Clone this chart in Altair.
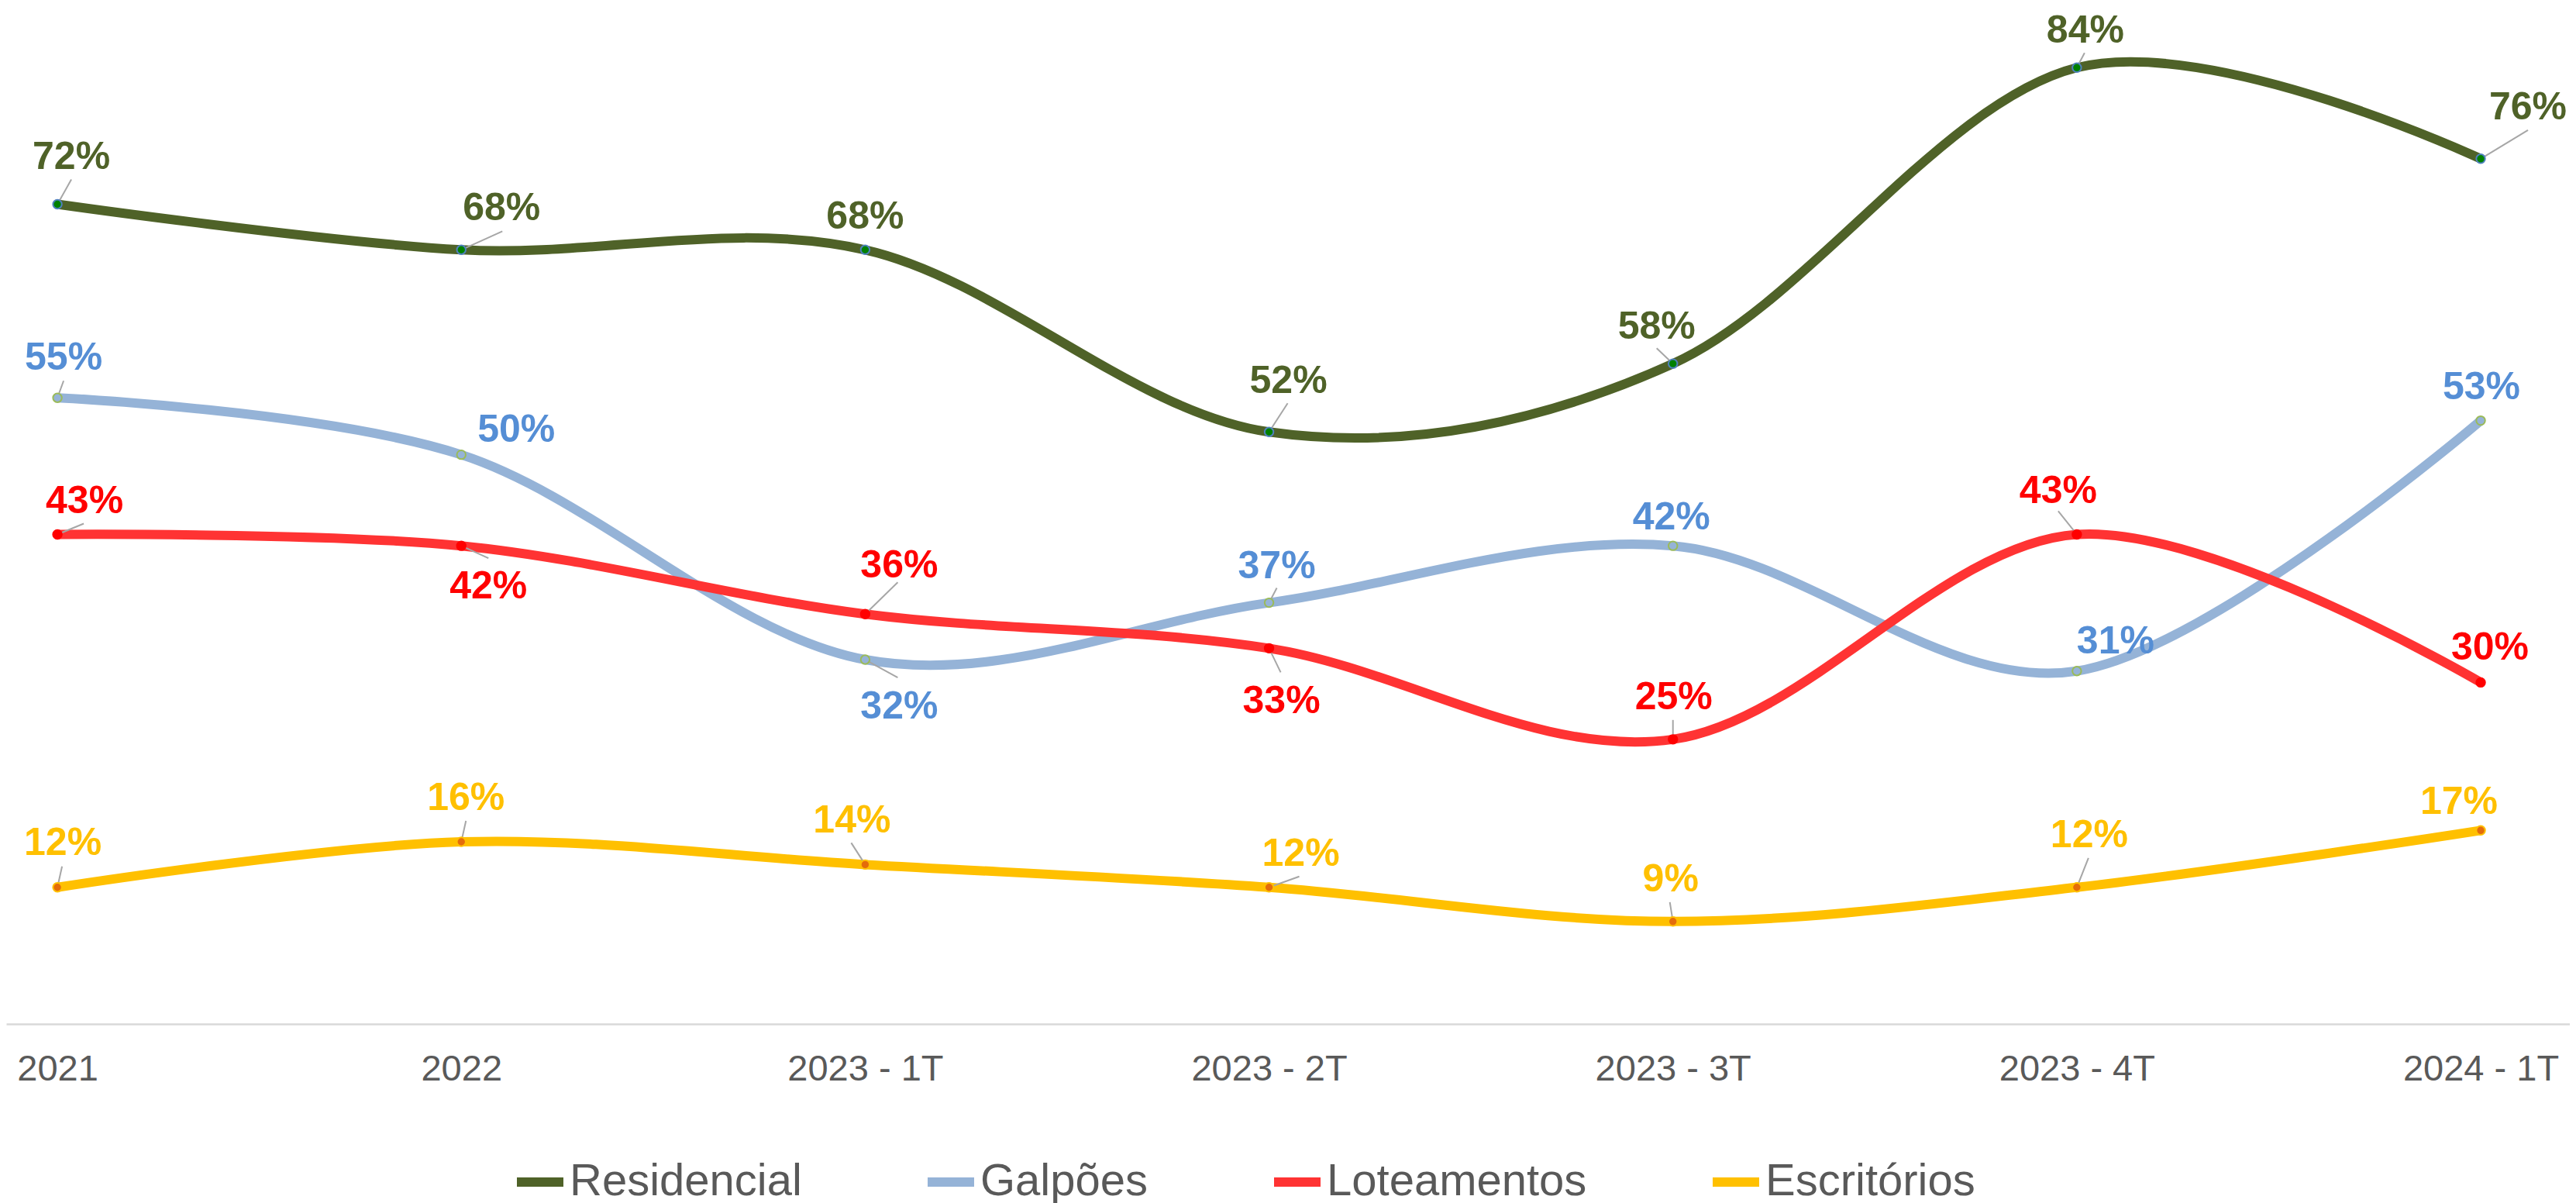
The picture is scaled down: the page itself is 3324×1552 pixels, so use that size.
import altair as alt
import pandas as pd

# ---- data ----
CATEGORIES = ["2021", "2022", "2023 - 1T", "2023 - 2T", "2023 - 3T", "2023 - 4T", "2024 - 1T"]
SERIES = ["Residencial", "Galpões", "Loteamentos", "Escritórios"]
RESIDENCIAL = [0.72, 0.68, 0.68, 0.52, 0.58, 0.84, 0.76]
GALPOES = [0.55, 0.50, 0.32, 0.37, 0.42, 0.31, 0.53]
LOTEAMENTOS = [0.43, 0.42, 0.36, 0.33, 0.25, 0.43, 0.30]
ESCRITORIOS = [0.12, 0.16, 0.14, 0.12, 0.09, 0.12, 0.17]
VALUES = [RESIDENCIAL, GALPOES, LOTEAMENTOS, ESCRITORIOS]

# ---- styles ----
LINE_COLORS = ["#4F6228", "#95B3D7", "#FF3333", "#FFC000"]
MARKER_FILL = ["#008000", "#95B3D7", "#FF0000", "#E46C0A"]
MARKER_STROKE = ["#4F81BD", "#9BBB59", "#FF0000", "#FFC000"]
LABEL_COLORS = ["#4F6228", "#558ED5", "#FF0000", "#FFC000"]

# label centre offsets (px) relative to each point
LABEL_OFFSETS = [
    [(18, -64), (52, -56), (0, -45), (25, -68), (-21, -50), (11, -50), (61, -69)],
    [(8, -54), (71, -35), (44, 58), (10, -50), (-2, -39), (50, -41), (1, -46)],
    [(35, -45), (35, 50), (44, -65), (16, 66), (1, -57), (-24, -58), (12, -47)],
    [(7, -60), (6, -59), (-17, -59), (41, -46), (-3, -57), (16, -70), (-28, -39)],
]
# leader line end offsets (px) relative to each point, None = no leader
LEADER_ENDS = [
    [(18, -32), (53, -24), None, (24, -37), (-21, -20), (10, -19), (61, -37)],
    [(8, -22), None, (42, 23), (10, -19), None, None, None],
    [(34, -14), (35, 16), (42, -41), (15, 31), (0, -25), (-24, -30), None],
    [(6, -27), (6, -27), (-18, -28), (39, -14), (-4, -25), (15, -38), None],
]

rows = []
lead_rows = []
for s_i, serie in enumerate(SERIES):
    for c_i, cat in enumerate(CATEGORIES):
        dx, dy = LABEL_OFFSETS[s_i][c_i]
        rows.append({"cat": cat, "idx": c_i, "serie": serie,
                     "value": VALUES[s_i][c_i], "ldx": dx, "ldy": dy})
        le = LEADER_ENDS[s_i][c_i]
        if le is not None:
            lead_rows.append({"cat": cat, "serie": serie, "value": VALUES[s_i][c_i],
                              "lx": le[0], "ly": le[1]})
df = pd.DataFrame(rows)
df_lead = pd.DataFrame(lead_rows)

FONT = "Liberation Sans"

x_enc = alt.X(
    "cat:N", sort=CATEGORIES,
    scale=alt.Scale(type="point", padding=0.1737, align=0.365),
    axis=alt.Axis(title=None, ticks=False, grid=False, labelAngle=0,
                  labelFont=FONT, labelFontSize=47, labelColor="#595959",
                  labelPadding=35, domainColor="#D9D9D9", domainWidth=2.5,
                  labelLimit=0),
)
y_enc = alt.Y("value:Q", scale=alt.Scale(domain=[0, 0.894], nice=False, zero=True), axis=None)

base = alt.Chart(df).encode(x=x_enc, y=y_enc)

lines = base.mark_line(interpolate="cardinal", strokeWidth=12).encode(
    color=alt.Color(
        "serie:N", sort=SERIES,
        scale=alt.Scale(domain=SERIES, range=LINE_COLORS),
        legend=alt.Legend(
            orient="none", legendX=653, legendY=1481, direction="horizontal",
            title=None, symbolType="stroke", symbolSize=3600, symbolStrokeWidth=12,
            labelFont=FONT, labelFontSize=58, labelColor="#595959",
            labelOffset=2, columnPadding=138, labelLimit=0,
        ),
    ),
    order=alt.Order("idx:Q"),
)

leaders = alt.Chart(df_lead).mark_rule(
    color="#A6A6A6", strokeWidth=2,
    x2Offset=alt.expr("datum.lx"), y2Offset=alt.expr("datum.ly"),
).encode(
    x=x_enc, y=y_enc, x2=alt.X2("cat"), y2=alt.Y2("value"),
)

points = base.mark_point(filled=True, size=130, strokeWidth=2, opacity=1).encode(
    fill=alt.Fill("serie:N", scale=alt.Scale(domain=SERIES, range=MARKER_FILL), legend=None),
    stroke=alt.Stroke("serie:N", scale=alt.Scale(domain=SERIES, range=MARKER_STROKE), legend=None),
)

labels = base.mark_text(
    font=FONT, fontSize=50, fontWeight="bold", align="center", baseline="alphabetic",
    dx=alt.expr("datum.ldx"), dy=alt.expr("datum.ldy + 18"),
).encode(
    text=alt.Text("value:Q", format=".0%"),
    fill=alt.Fill("serie:N", scale=alt.Scale(domain=SERIES, range=LABEL_COLORS), legend=None),
)

chart = alt.layer(lines, leaders, points, labels).resolve_scale(
    fill="independent", stroke="independent"
).properties(
    width=3308, height=1313, padding=0, background="white",
).configure_view(stroke=None, strokeWidth=0)

chart.save("out.html", embed_options={"renderer": "svg", "actions": False})
